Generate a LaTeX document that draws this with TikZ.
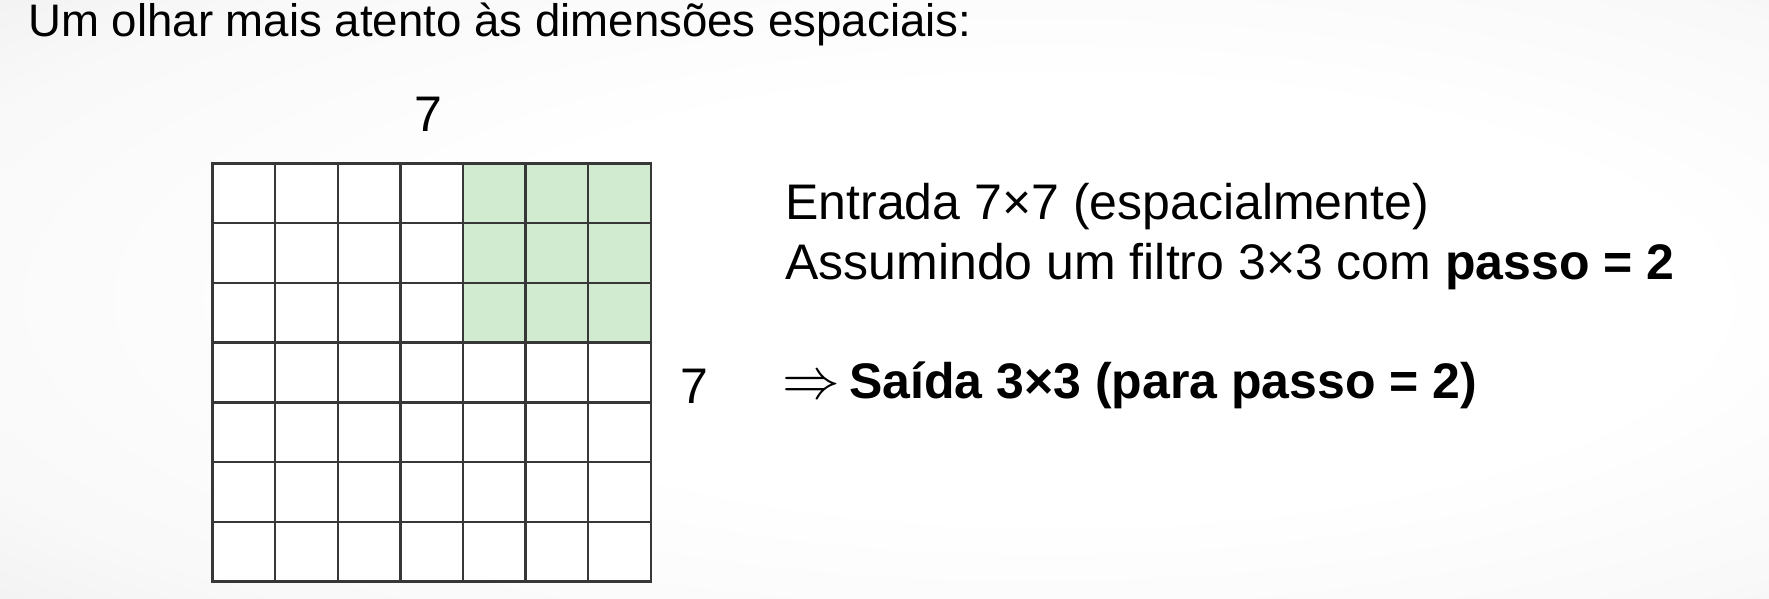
\documentclass[tikz,border=0pt]{standalone}
\usepackage{fontspec}
\setmainfont{Liberation Sans}
\usetikzlibrary{matrix,positioning}

\definecolor{cellgreen}{RGB}{208,235,208}
\definecolor{gridline}{RGB}{55,55,55}
\pgfdeclareradialshading{slidebg}{\pgfpoint{8bp}{0bp}}{color(0bp)=(white); color(18bp)=(white); color(32bp)=(white!97.5!black); color(50bp)=(white!89!black)}

\tikzset{
    txt/.style={anchor=base west, inner sep=0pt, font=\fontsize{25}{30}\selectfont},
    titletxt/.style={anchor=base west, inner sep=0pt, font=\fontsize{22.8}{26}\selectfont},
    dimlabel/.style={anchor=base, inner sep=0pt, font=\fontsize{25}{30}\selectfont},
}

\begin{document}
\begin{tikzpicture}[x=0.5pt, y=-0.5pt]
\useasboundingbox (0,0) rectangle (1769,599);
\shade[shading=slidebg] (0,0) rectangle (1769,599);

\node (title) [titletxt] at (28,36.7) {Um olhar mais atento às dimensões espaciais:};

\matrix (G) [matrix of nodes, nodes in empty cells, anchor=north west,
    nodes={draw=gridline, line width=1.2pt, minimum width=31.3pt, minimum height=29.85pt},
    column sep=-1.2pt, row sep=-1.2pt,
    nodes={fill=white},
    row 1 column 5/.style={nodes={fill=cellgreen}},
    row 1 column 6/.style={nodes={fill=cellgreen}},
    row 1 column 7/.style={nodes={fill=cellgreen}},
    row 2 column 5/.style={nodes={fill=cellgreen}},
    row 2 column 6/.style={nodes={fill=cellgreen}},
    row 2 column 7/.style={nodes={fill=cellgreen}},
    row 3 column 5/.style={nodes={fill=cellgreen}},
    row 3 column 6/.style={nodes={fill=cellgreen}},
    row 3 column 7/.style={nodes={fill=cellgreen}},
    ] at (204.3,155.3) {
    & & & & & & \\
    & & & & & & \\
    & & & & & & \\
    & & & & & & \\
    & & & & & & \\
    & & & & & & \\
    & & & & & & \\};

    \node (width) [dimlabel] at (428,131.7) {7};
    \node (height) [dimlabel] at (694,403.3) {7};

    \node (entrada) [txt] at (785,220) {Entrada 7×7 (espacialmente)};
    \node (filtro) [txt] at (785,279.3) {Assumindo um filtro 3×3 com \textbf{passo = 2}};
    \node (saida) [txt] at (782,398) {\scalebox{1.16}{$\Rightarrow$}\hspace{4.5pt}\textbf{Saída 3×3 (para passo = 2)}};

\end{tikzpicture}
\end{document}
